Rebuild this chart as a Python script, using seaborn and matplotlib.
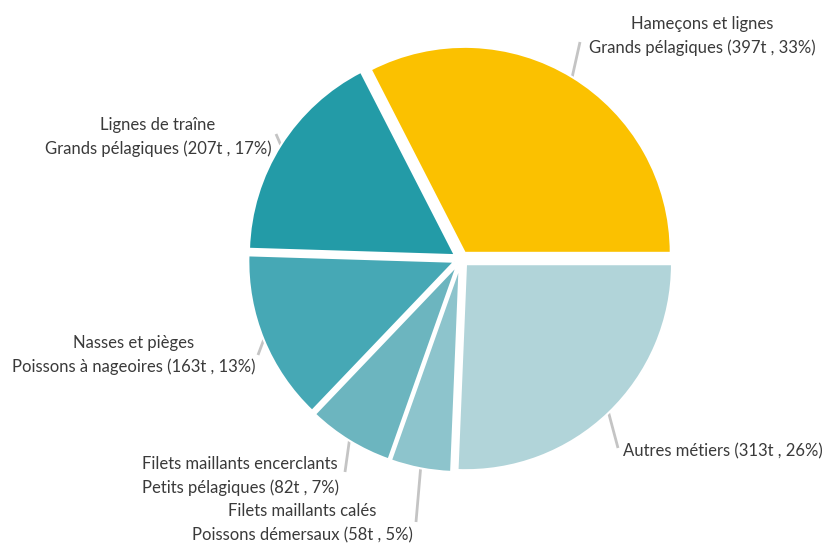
import numpy as np
import seaborn as sns
import matplotlib.pyplot as plt

sns.set_theme(style="white")
plt.rcParams['font.family'] = ['Lato', 'DejaVu Sans']

# data
metiers = ["Hameçons et lignes\nGrands pélagiques",
           "Lignes de traîne\nGrands pélagiques",
           "Nasses et pièges\nPoissons à nageoires",
           "Filets maillants encerclants\nPetits pélagiques",
           "Filets maillants calés\nPoissons démersaux",
           "Autres métiers"]
tonnes = [397, 207, 163, 82, 58, 313]
percents = [33, 17, 13, 7, 5, 26]
colors = ["#FBC100", "#239BA7", "#46A8B5", "#6CB5BF", "#8DC4CC", "#B1D4D9"]

# pixel layout of the pie (center, radius) and labels
cx, cy, R = 461, 259, 206


def to_data(px, py):
    return (px - cx) / R, (cy - py) / R


text_px = [(702, 36), (158, 137), (134, 355), (240, 476), (302, 523), (623, 451)]
text_ha = ["center", "center", "center", "center", "center", "left"]
leader_px = [(580, 42), (276, 134), (258, 355), (345, 472), (416, 522), (618, 448)]

fig = plt.figure(figsize=(8.24, 5.44), dpi=100)
ax = fig.add_axes([0, 0, 1, 1])
explode = [0.035] * len(tonnes)
wedges, _ = ax.pie(tonnes, colors=colors, startangle=0, counterclock=True,
                   explode=explode,
                   wedgeprops=dict(linewidth=1.5, edgecolor="white"))
ax.set_aspect('auto')
ax.set_xlim(-cx / R, (824 - cx) / R)
ax.set_ylim(-(544 - cy) / R, cy / R)
ax.axis('off')

for w, lab, t, p, tpx, ha, lpx, ex in zip(wedges, metiers, tonnes, percents,
                                          text_px, text_ha, leader_px, explode):
    mid = np.deg2rad((w.theta1 + w.theta2) / 2)
    r = 1 + ex
    sx, sy = r * np.cos(mid), r * np.sin(mid)
    ex_, ey_ = to_data(*lpx)
    ax.plot([sx, ex_], [sy, ey_], color="#c4c4c4", lw=2,
            solid_capstyle='butt', zorder=0)
    tx, ty = to_data(*tpx)
    ax.text(tx, ty, f"{lab} ({t}t , {p}%)", ha=ha, va="center",
            multialignment="center", fontsize=12, color="#3a3a3a",
            linespacing=1.6)

plt.savefig("out.png", dpi=100)
